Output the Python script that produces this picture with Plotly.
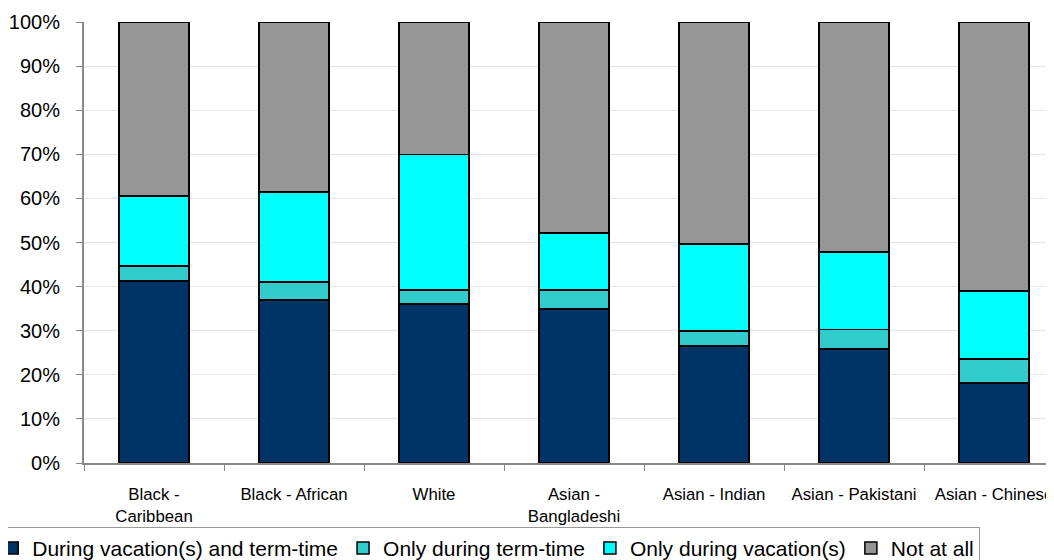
import plotly.graph_objects as go

categories = ["Black -<br>Caribbean", "Black - African", "White", "Asian -<br>Bangladeshi",
              "Asian - Indian", "Asian - Pakistani", "Asian - Chinese"]
series_names = ["During vacation(s) and term-time", "Only during term-time",
                "Only during vacation(s)", "Not at all"]
vac_and_term = [41.3, 37.0, 36.1, 34.9, 26.5, 25.9, 18.1]
only_term = [3.4, 4.0, 3.1, 4.3, 3.4, 4.4, 5.5]
only_vac = [15.8, 20.5, 30.7, 12.9, 19.8, 17.6, 15.4]
not_at_all = [39.5, 38.5, 30.1, 47.9, 50.3, 52.1, 61.0]
colors = ["#003366", "#33CCCC", "#00FFFF", "#969696"]

fig = go.Figure()
for name, vals, col in zip(series_names, [vac_and_term, only_term, only_vac, not_at_all], colors):
    fig.add_trace(go.Bar(x=categories, y=vals, name=name,
                         marker=dict(color=col, line=dict(color="#000000", width=1.5)),
                         width=0.5))

# page body has an 8px default margin, so the figure is shrunk/shifted to compensate
fig.update_layout(
    barmode="stack",
    width=1046, height=552,
    margin=dict(l=76, r=4, t=14, b=97, autoexpand=False),
    plot_bgcolor="white", paper_bgcolor="white",
    font=dict(family="Liberation Sans, Arial, sans-serif", size=17, color="#000000"),
    showlegend=True,
    legend=dict(orientation="h", x=-0.096, xanchor="left", y=-0.145, yanchor="top",
                bordercolor="#999999", borderwidth=1, font=dict(size=21),
                traceorder="normal", itemclick=False, itemwidth=30),
)
fig.update_xaxes(range=[-0.5, 6.4], showline=True, linecolor="#888888", linewidth=2,
                 ticks="outside", tickson="boundaries", tickcolor="#888888", ticklen=6,
                 tickfont=dict(size=16.8), automargin=False, ticklabelstandoff=15)
fig.update_yaxes(range=[0, 100], dtick=10, ticksuffix="%", showline=True, linecolor="#888888",
                 linewidth=2, ticks="outside", tickcolor="#888888", ticklen=6,
                 showgrid=True, gridcolor="#e6e6e6", gridwidth=1, tickfont=dict(size=20),
                 zeroline=False, automargin=False, ticklabelstandoff=12)

fig.write_html("out.html")
